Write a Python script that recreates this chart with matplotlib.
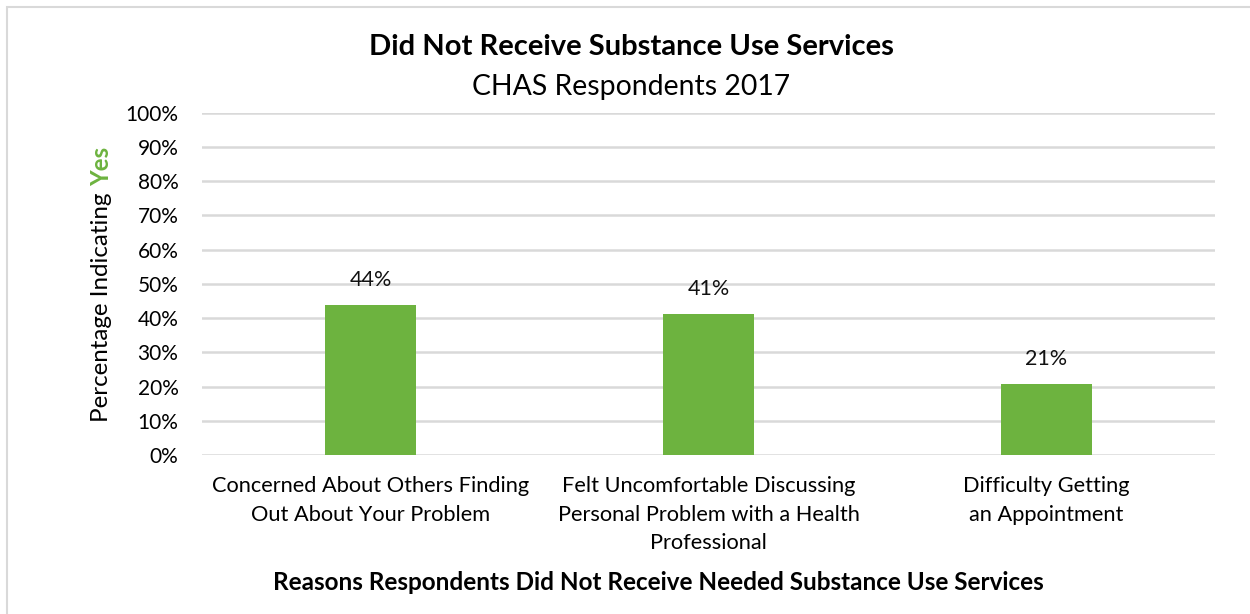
import matplotlib.pyplot as plt
from matplotlib.patches import Rectangle
from matplotlib.ticker import PercentFormatter

# survey numbers
reasons = ["Concerned About Others Finding\nOut About Your Problem",
           "Felt Uncomfortable Discussing\nPersonal Problem with a Health\nProfessional",
           "Difficulty Getting\nan Appointment"]
pct_yes = [43.8, 41.2, 20.6]
yticks = list(range(0, 101, 10))

green = '#6db33f'
grid_grey = '#d9d9d9'
plt.rcParams['font.family'] = ['Lato', 'DejaVu Sans']

fig = plt.figure(figsize=(12.5, 6.14), dpi=100)
ax = fig.add_axes([0.1616, 0.259, 0.8104, 0.5575])

x = range(len(reasons))
ax.bar(x, pct_yes, width=0.27, color=green, zorder=3)
for xi, v in zip(x, pct_yes):
    ax.annotate(f"{v:.0f}%", (xi, v), xytext=(0, 11), textcoords='offset points',
                ha='center', va='bottom', fontsize=15.5, color='#111111')

ax.set_xlim(-0.5, 2.5)
ax.set_ylim(0, 100)
ax.set_yticks(yticks)
ax.yaxis.set_major_formatter(PercentFormatter(decimals=0))
ax.set_xticks(list(x))
ax.set_xticklabels(reasons, fontsize=15.7, linespacing=1.55)
ax.tick_params(axis='y', labelsize=15, length=0, pad=17)
ax.tick_params(axis='x', length=0, pad=15)
ax.grid(axis='y', color=grid_grey, linewidth=1.8, zorder=0)
for s in ax.spines.values():
    s.set_visible(False)

fig.text(0.505, 1 - 47 / 614, "Did Not Receive Substance Use Services",
         ha='center', va='center', fontsize=21, fontweight='bold')
fig.text(0.505, 1 - 87 / 614, "CHAS Respondents 2017",
         ha='center', va='center', fontsize=20.4)
fig.text(0.5265, 1 - 582 / 614, "Reasons Respondents Did Not Receive Needed Substance Use Services",
         ha='center', va='center', fontsize=17.5, fontweight='bold')

# y label in two pieces so "Yes" can be bold green
t1 = fig.text(102 / 1250, 1 - 422 / 614, "Percentage Indicating ", rotation=90,
              ha='center', va='bottom', fontsize=17.4)
fig.canvas.draw()
bb = t1.get_window_extent().transformed(fig.transFigure.inverted())
fig.text(102 / 1250, bb.y1, "Yes", rotation=90, ha='center', va='bottom',
         fontsize=17.4, fontweight='bold', color=green)

# chart frame
fig.patches.append(Rectangle((7 / 1250, -0.05), 1.1, 1 - 7 / 614 + 0.05,
                             transform=fig.transFigure, fill=False,
                             edgecolor=grid_grey, linewidth=1.5))

fig.savefig('out.png', dpi=100)
